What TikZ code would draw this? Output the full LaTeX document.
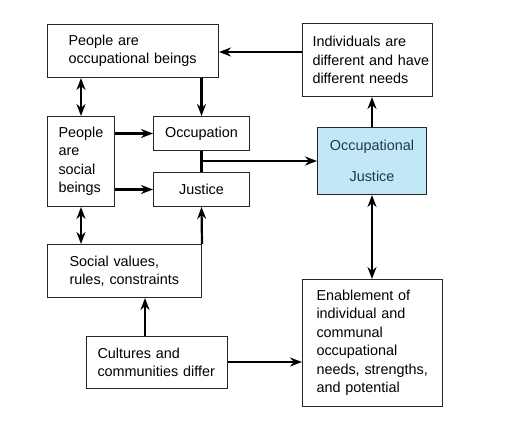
\documentclass[tikz,border=0pt]{standalone}
\usepackage{fontspec}
\setmainfont{Liberation Sans}
\usetikzlibrary{arrows.meta}
\definecolor{ojfill}{HTML}{C2E8F8}
\definecolor{ojtext}{HTML}{22394A}
\tikzset{
  box/.style={draw=black!85, line width=1pt, anchor=north west, inner ysep=0pt, align=left,
    font=\fontsize{14.4}{18.5}\selectfont},
  conn/.style={line width=2.2pt, -{Stealth[length=12pt,width=9pt]}},
  conn2/.style={line width=2.2pt, {Stealth[length=12pt,width=9pt]}-{Stealth[length=12pt,width=9pt]}},
  plain/.style={line width=2.2pt}
}
\begin{document}
\begin{tikzpicture}[x=1pt,y=-1pt]
\useasboundingbox (0,0) rectangle (512,426);
% boxes
\node[box, minimum width=171pt, minimum height=53pt, inner xsep=21pt, text width=129pt] (occb) at (47,24) {People are\\occupational~beings};
\node[box, minimum width=130pt, minimum height=73pt, inner xsep=10pt, text width=110pt] (indiv) at (302,23) {Individuals are\\different~and~have\\different needs};
\node[box, fill=ojfill, text=ojtext, minimum width=109pt, minimum height=67pt, inner xsep=4pt, text width=101pt, align=center,
  font=\fontsize{14.4}{31}\selectfont] (oj) at (317,127) {Occupational\\Justice};
\node[box, minimum width=67pt, minimum height=90pt, inner xsep=11pt, text width=45pt] (social) at (47,116) {People\\are\\social\\beings};
\node[box, minimum width=96pt, minimum height=34pt, inner xsep=4pt, text width=88pt, align=center] (occ) at (153,116) {Occupation};
\node[box, minimum width=96pt, minimum height=34pt, inner xsep=4pt, text width=88pt, align=center] (just) at (153,172) {Justice};
\node[box, minimum width=154pt, minimum height=53pt, inner xsep=22pt, text width=110pt] (values) at (47,244) {Social values,\\rules,~constraints};
\node[box, minimum width=141pt, minimum height=52pt, inner xsep=11pt, text width=119pt] (cult) at (86,336) {Cultures and\\communities~differ};
\node[box, minimum width=140pt, minimum height=127pt, inner xsep=14pt, text width=112pt] (enab) at (302,279) {Enablement of\\individual and\\communal\\occupational\\needs,~strengths,\\and potential};
% connectors
\draw[conn] (indiv.west |- 0,52) -- (occb.east |- 0,52);
\draw[conn2] (occb.south -| 81,0) -- (social.north -| 81,0);
\draw[conn] (occb.south -| occ.north) -- (occ.north);
\draw[conn] (social.east |- occ.west) -- (occ.west);
\draw[conn] (social.east |- just.west) -- (just.west);
\draw[plain] (occ.south) -- (just.north);
\coordinate (jn) at (occ.south |- 0,161);
\draw[conn] (jn) -- (oj.west |- jn);
\draw[conn] (oj.north -| 372,0) -- (indiv.south -| 372,0);
\draw[conn2] (oj.south -| 372,0) -- (enab.north -| 372,0);
\draw[conn2] (social.south -| 81,0) -- (values.north -| 81,0);
\draw[conn] (values.north east) -- (just.south);
\draw[conn] (cult.north -| 145,0) -- (values.south -| 145,0);
\draw[conn] (cult.east |- 0,362) -- (enab.west |- 0,362);
\end{tikzpicture}
\end{document}
